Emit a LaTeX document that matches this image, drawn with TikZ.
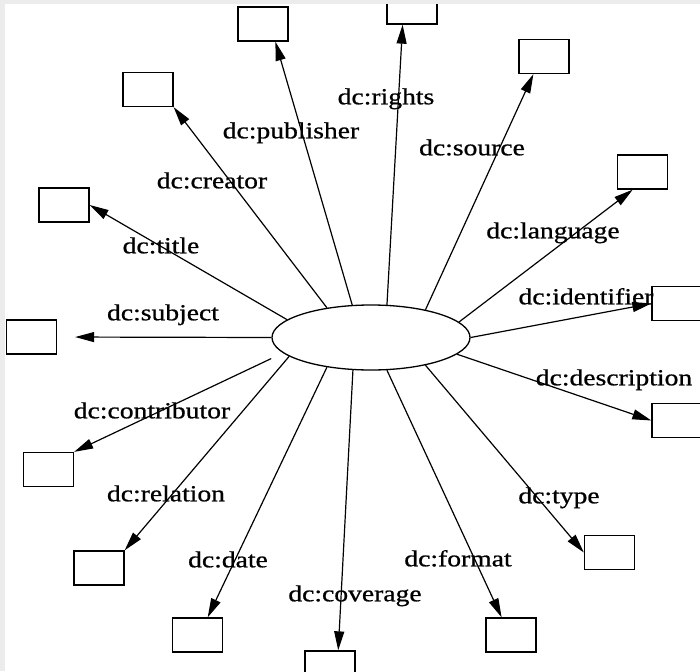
\documentclass[tikz,border=0pt]{standalone}
\usepackage{fontspec}
\setmainfont{Liberation Serif}[FakeStretch=1.2, FakeBold=0.8]
\usepackage{tikz}
\usetikzlibrary{arrows.meta, shapes.geometric}
\definecolor{framegray}{RGB}{236, 236, 236}

\begin{document}
\begin{tikzpicture}[
  x=1pt, y=-1pt,
  prop/.style={draw, line width=1.3pt, minimum width=50pt, minimum height=34pt, inner sep=0pt},
  res/.style={draw, line width=1.3pt, ellipse, minimum width=198pt, minimum height=65pt, inner sep=0pt},
  lbl/.style={anchor=mid, yshift=-5pt, inner sep=0pt, font=\fontsize{23}{26}\selectfont},
  arr/.style={-{Triangle[length=19pt, width=10pt]}, line width=1.2pt}
]
\useasboundingbox (0,0) rectangle (700,671);
\clip (0,0) rectangle (700,671);
\fill[white] (0,0) rectangle (700,671);

\node[res] (res) at (371,337.5) {};

\node[prop] (pub) at (263,24) {};
\node[prop] (rig) at (412,7) {};
\node[prop] (cre) at (148,89.5) {};
\node[prop] (src) at (544,56.5) {};
\node[prop] (lang) at (642.5,172) {};
\node[prop] (tit) at (64,205) {};
\node[prop] (sub) at (31.5,337) {};
\node[prop] (idf) at (677,303.5) {};
\node[prop] (desc) at (677,420.5) {};
\node[prop] (con) at (48.5,469.5) {};
\node[prop] (rel) at (99,568) {};
\node[prop] (dat) at (197.5,635) {};
\node[prop] (cov) at (330,668) {};
\node[prop] (fmt) at (511,635) {};
\node[prop] (typ) at (609.5,552.5) {};

\draw[arr] (res.120) -- (pub.-55);
\draw[arr] (res.64) -- (rig.-118);
\draw[arr] (res.146) -- (cre.south east);
\draw[arr] (res.27) -- (src.-121);
\draw[arr] (res.10) -- (lang.-119);
\draw[arr] (res.168) -- (tit.east);
\draw[arr, shorten >=18pt] (res.west) -- (sub.east);
\draw[arr] (res.east) -- (idf.west);
\draw[arr] (res.-11) -- (desc.west);
\draw[arr, shorten <=13pt] (res.-170) -- (con.north east);
\draw[arr] (res.-167) -- (rel.north east);
\draw[arr] (res.-146) -- (dat.60);
\draw[arr] (res.-119) -- (cov.65);
\draw[arr] (res.-64) -- (fmt.118);
\draw[arr] (res.-27) -- (typ.west);

\node[lbl] (lpub) at (291,131) {dc:publisher};
\node[lbl] (lrig) at (386,97) {dc:rights};
\node[lbl] (lcre) at (212,181) {dc:creator};
\node[lbl] (lsrc) at (472,148) {dc:source};
\node[lbl] (llang) at (553,231) {dc:language};
\node[lbl] (ltit) at (161,246) {dc:title};
\node[lbl] (lsub) at (163,313) {dc:subject};
\node[lbl] (lidf) at (586,297) {dc:identifier};
\node[lbl] (ldesc) at (614,378) {dc:description};
\node[lbl] (lcon) at (152,411) {dc:contributor};
\node[lbl] (lrel) at (166,494) {dc:relation};
\node[lbl] (ldat) at (228,560) {dc:date};
\node[lbl] (lcov) at (355,594) {dc:coverage};
\node[lbl] (lfmt) at (458,559) {dc:format};
\node[lbl] (ltyp) at (559,496) {dc:type};

\fill[framegray] (0,0) rectangle (700,4);
\fill[framegray] (0,0) rectangle (5,671);
\end{tikzpicture}
\end{document}
